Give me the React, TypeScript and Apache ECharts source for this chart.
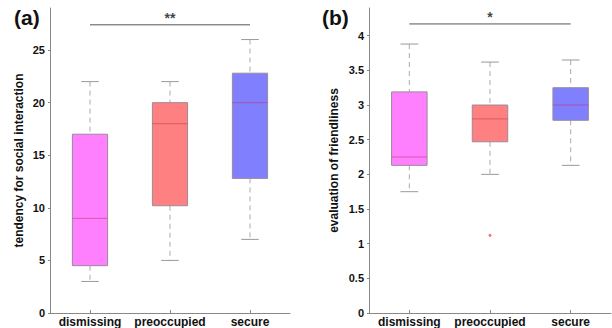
import React, { useEffect, useRef } from "react";
import * as echarts from "echarts";

const categories = ["dismissing", "preoccupied", "secure"];
const boxColors = ["#ff80ff", "#ff8080", "#8080ff"];

// (a) tendency for social interaction
const socialLow = [3, 5, 7];
const socialQ1 = [4.5, 10.2, 12.8];
const socialMed = [9, 18, 20];
const socialQ3 = [17, 20, 22.8];
const socialHigh = [22, 22, 26];
const socialSigY = 27.4;
const socialSigText = "**";

// (b) evaluation of friendliness
const friendLow = [1.75, 2.0, 2.13];
const friendQ1 = [2.13, 2.47, 2.78];
const friendMed = [2.25, 2.8, 3.0];
const friendQ3 = [3.19, 3.0, 3.25];
const friendHigh = [3.88, 3.62, 3.65];
const friendOutliers = [[1, 1.12]];
const friendSigY = 4.17;
const friendSigText = "*";

const FONT = "Liberation Sans, Arial, sans-serif";

function boxData(low: number[], q1: number[], med: number[], q3: number[], high: number[]) {
  return categories.map((_, i) => [i, low[i], q1[i], med[i], q3[i], high[i]]);
}

function renderBox(params: any, api: any) {
  const idx = api.value(0);
  const low = api.coord([idx, api.value(1)]);
  const q1 = api.coord([idx, api.value(2)]);
  const med = api.coord([idx, api.value(3)]);
  const q3 = api.coord([idx, api.value(4)]);
  const high = api.coord([idx, api.value(5)]);
  const band = api.size([1, 0])[0];
  const bw = band * 0.44;
  const cw = band * 0.22;
  const x = low[0];
  const color = boxColors[idx];
  const dash = { stroke: "#aaaaaa", lineWidth: 1, lineDash: [5, 4] };
  const cap = { stroke: "#999999", lineWidth: 1 };
  return {
    type: "group",
    children: [
      { type: "line", shape: { x1: x, y1: high[1], x2: x, y2: q3[1] }, style: dash },
      { type: "line", shape: { x1: x, y1: q1[1], x2: x, y2: low[1] }, style: dash },
      { type: "line", shape: { x1: x - cw / 2, y1: high[1], x2: x + cw / 2, y2: high[1] }, style: cap },
      { type: "line", shape: { x1: x - cw / 2, y1: low[1], x2: x + cw / 2, y2: low[1] }, style: cap },
      {
        type: "rect",
        shape: { x: x - bw / 2, y: q3[1], width: bw, height: q1[1] - q3[1] },
        style: { fill: color, stroke: "#9a8a9a", lineWidth: 1 },
      },
      {
        type: "line",
        shape: { x1: x - bw / 2, y1: med[1], x2: x + bw / 2, y2: med[1] },
        style: { stroke: "rgba(200,40,90,0.5)", lineWidth: 1 },
      },
    ],
  };
}

function makeXAxis(gridIndex: number) {
  return {
    type: "category",
    gridIndex,
    data: categories,
    boundaryGap: true,
    axisLine: { lineStyle: { color: "#888888", width: 1 } },
    axisTick: { show: true, alignWithLabel: true, inside: true, length: 3, lineStyle: { color: "#888888" } },
    axisLabel: { interval: 0, color: "#111111", fontWeight: "bold", fontSize: 12, fontFamily: FONT, margin: 3, hideOverlap: false },
    splitLine: { show: false },
  };
}

function makeYAxis(gridIndex: number, max: number, interval: number, name: string, nameGap: number) {
  return {
    type: "value",
    gridIndex,
    min: 0,
    max,
    interval,
    name,
    nameLocation: "middle",
    nameGap,
    nameTextStyle: { color: "#111111", fontWeight: "bold", fontSize: 12, fontFamily: FONT },
    axisLine: { show: true, lineStyle: { color: "#888888", width: 1 } },
    axisTick: { show: true, length: 2, lineStyle: { color: "#888888" } },
    axisLabel: { color: "#111111", fontWeight: "bold", fontSize: 11, fontFamily: FONT, margin: 5, showMaxLabel: false },
    splitLine: { show: false },
  };
}

export default function App() {
  const ref = useRef<HTMLDivElement>(null);
  useEffect(() => {
    if (!ref.current) return;
    const chart = echarts.init(ref.current, null, { renderer: "svg" });
    const option: any = {
      animation: false,
      backgroundColor: "#ffffff",
      title: [
        { text: "(a)", left: 14, top: 7, padding: 0, textStyle: { fontSize: 21, fontWeight: "bold", color: "#111", fontFamily: FONT } },
        { text: "(b)", left: 322, top: 7, padding: 0, textStyle: { fontSize: 21, fontWeight: "bold", color: "#111", fontFamily: FONT } },
      ],
      grid: [
        { left: 50, top: 8, width: 240, bottom: 15, containLabel: false },
        { left: 369, top: 8, width: 242, bottom: 15, containLabel: false },
      ],
      xAxis: [makeXAxis(0), makeXAxis(1)],
      yAxis: [
        makeYAxis(0, 29, 5, "tendency for social interaction", 25),
        makeYAxis(1, 4.4, 0.5, "evaluation of friendliness", 29),
      ],
      series: [
        {
          type: "custom",
          xAxisIndex: 0,
          yAxisIndex: 0,
          renderItem: renderBox,
          encode: { x: 0, y: [1, 2, 3, 4, 5] },
          data: boxData(socialLow, socialQ1, socialMed, socialQ3, socialHigh),
        },
        {
          type: "custom",
          xAxisIndex: 1,
          yAxisIndex: 1,
          renderItem: renderBox,
          encode: { x: 0, y: [1, 2, 3, 4, 5] },
          data: boxData(friendLow, friendQ1, friendMed, friendQ3, friendHigh),
        },
        {
          type: "scatter",
          xAxisIndex: 1,
          yAxisIndex: 1,
          symbol: "circle",
          symbolSize: 3,
          itemStyle: { color: "#ff5050" },
          data: friendOutliers,
        },
        {
          type: "line",
          xAxisIndex: 0,
          yAxisIndex: 0,
          symbol: "none",
          lineStyle: { color: "#555555", width: 1 },
          data: [[0, socialSigY], [2, socialSigY]],
        },
        {
          type: "line",
          xAxisIndex: 1,
          yAxisIndex: 1,
          symbol: "none",
          lineStyle: { color: "#555555", width: 1 },
          data: [[0, friendSigY], [2, friendSigY]],
        },
        {
          type: "scatter",
          xAxisIndex: 0,
          yAxisIndex: 0,
          symbolSize: 0,
          label: { show: true, position: "top", distance: 0, formatter: socialSigText, fontSize: 14, fontWeight: "bold", color: "#111", fontFamily: FONT },
          data: [[1, socialSigY]],
        },
        {
          type: "scatter",
          xAxisIndex: 1,
          yAxisIndex: 1,
          symbolSize: 0,
          label: { show: true, position: "top", distance: 0, formatter: friendSigText, fontSize: 14, fontWeight: "bold", color: "#111", fontFamily: FONT },
          data: [[1, friendSigY]],
        },
      ],
    };
    chart.setOption(option);
    return () => chart.dispose();
  }, []);
  return (
    <div
      ref={ref}
      style={{ position: "fixed", left: 0, top: 0, width: 612, height: 328 }}
    />
  );
}
